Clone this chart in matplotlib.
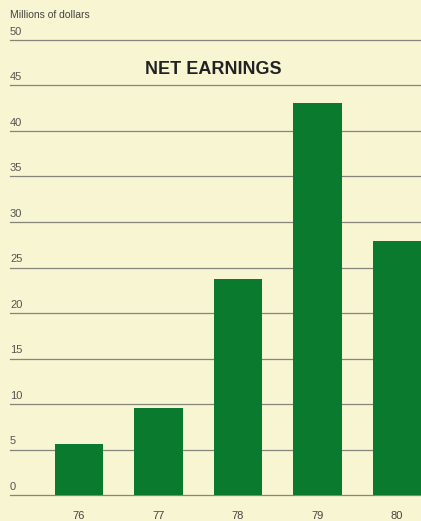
import matplotlib.pyplot as plt

years = ["76", "77", "78", "79", "80"]
earnings = [5.6, 9.6, 23.7, 43.1, 27.9]
yticks = [0, 5, 10, 15, 20, 25, 30, 35, 40, 45, 50]

bg = "#f8f5d2"
green = "#0a7a2f"

fig = plt.figure(figsize=(4.21, 5.21), dpi=100, facecolor=bg)
ax = fig.add_axes([10 / 421, 26 / 521, 411 / 421, 455 / 521])
ax.set_facecolor(bg)

x = list(range(len(years)))
ax.bar(x, earnings, width=0.61, color=green, zorder=3)

for v in yticks:
    ax.axhline(v, color="#85857c", lw=0.9, zorder=1, clip_on=False)
    ax.text(0.0, v + 0.35, str(v), transform=ax.get_yaxis_transform(),
            fontsize=8, color="#555550", family="Liberation Sans",
            ha="left", va="bottom")

ax.set_xlim(-0.867, 4.30)
ax.set_ylim(0, 50)
ax.axis("off")

for xi, lab in zip(x, years):
    ax.text(xi, -2.3, lab, fontsize=8, color="#444440", family="Liberation Sans",
            ha="center", va="center")

fig.text(10 / 421, 1 - 15 / 521, "Millions of dollars", fontsize=7.5, color="#444440",
         family="Liberation Sans", ha="left", va="center")
fig.text(213 / 421, 1 - 70 / 521, "NET EARNINGS", fontsize=13, fontweight="bold",
         color="#222222", family="Liberation Sans", ha="center", va="center")

fig.savefig("out.png", dpi=100, facecolor=bg)
